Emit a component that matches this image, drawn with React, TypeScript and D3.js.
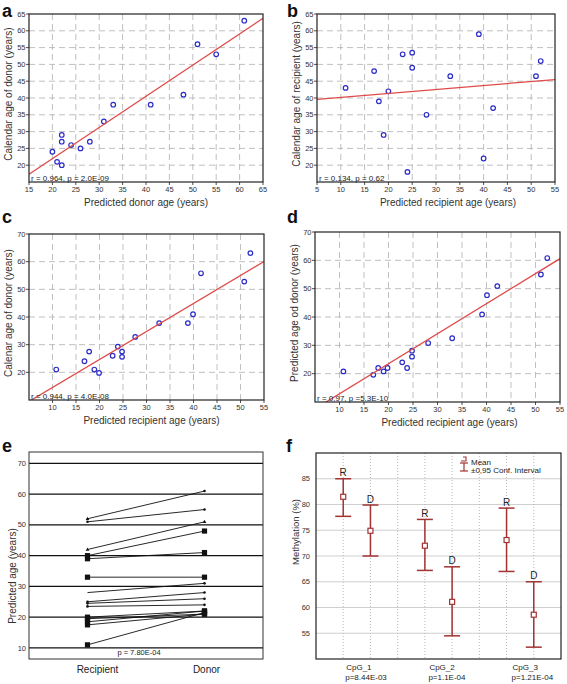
import React from 'react';
import * as d3 from 'd3';

const FONT = '"Liberation Sans", Arial, sans-serif';

// ---- Panel a ----
const aPredDonor = [20, 21, 22, 22, 22, 24, 26, 28, 31, 33, 41, 48, 51, 55, 61];
const aCalDonor = [24, 21, 20, 27, 29, 26, 25, 27, 33, 38, 38, 41, 56, 53, 63];
const aFit = [3.4, 0.928];
const aStat = 'r = 0.964, p = 2.0E-09';
const aXTicks = [15, 20, 25, 30, 35, 40, 45, 50, 55, 60, 65];
const aYTicks = [20, 25, 30, 35, 40, 45, 50, 55, 60, 65];

// ---- Panel b ----
const bPredRec = [11, 17, 18, 19, 20, 23, 24, 25, 25, 28, 33, 39, 40, 42, 51, 52];
const bCalRec = [43, 48, 39, 29, 42, 53, 18, 53.5, 49, 35, 46.5, 59, 22, 37, 46.5, 51];
const bFit = [39.0, 0.118];
const bStat = 'r = 0.134, p = 0.62';
const bXTicks = [5, 10, 15, 20, 25, 30, 35, 40, 45, 50, 55];
const bYTicks = [20, 25, 30, 35, 40, 45, 50, 55, 60, 65];

// ---- Panel c ----
const cPredRec = [10.8, 16.8, 17.8, 18.9, 19.9, 22.8, 23.9, 24.8, 24.8, 27.6, 32.7, 38.8, 39.9, 41.6, 50.8, 52.1];
const cCalDonor = [21, 24, 27.5, 21, 19.8, 26, 29.3, 27.5, 25.6, 32.8, 37.8, 37.8, 41, 55.8, 52.8, 63.1];
const cFit = [4.4, 1.012];
const cStat = 'r = 0.944, p = 4.0E-08';
const cXTicks = [10, 15, 20, 25, 30, 35, 40, 45, 50, 55];
const cYTicks = [20, 30, 40, 50, 60, 70];

// ---- Panel d ----
const dPredRec = [10.8, 16.9, 17.9, 19, 19.8, 22.8, 23.8, 24.8, 24.8, 28.1, 33, 39.1, 40.1, 42.2, 51.1, 52.4];
const dPredDonor = [20.8, 19.6, 22, 20.8, 22, 24, 22, 28.1, 26, 30.8, 32.5, 40.9, 47.7, 50.9, 55, 60.8];
const dFit = [2.3, 1.06];
const dStat = 'r = 0.97, p =5.3E-10';
const dXTicks = [10, 15, 20, 25, 30, 35, 40, 45, 50, 55];
const dYTicks = [20, 30, 40, 50, 60, 70];

// ---- Panel e ----
const eGroups = ['Recipient', 'Donor'];
const eRecipient = [52, 51, 42, 40, 39, 33, 28, 25, 24.5, 23.5, 20, 19.5, 18.5, 17.5, 11];
const eDonor = [61, 55, 51, 48, 41, 33, 31, 28, 26, 24, 22, 21, 22, 21, 21.5];
const eRecMarker = ['tri', 'dot', 'tri', 'square', 'square', 'square', 'none', 'dot', 'dot', 'dot', 'square', 'square', 'square', 'square', 'square'];
const eDonMarker = ['dot', 'dot', 'tri', 'square', 'square', 'square', 'dot', 'dot', 'dot', 'dot', 'square', 'square', 'square', 'square', 'square'];
const eYTicks = [10, 20, 30, 40, 50, 60, 70];
const eStat = 'p = 7.80E-04';

// ---- Panel f ----
const fGroups = ['CpG_1', 'CpG_2', 'CpG_3'];
const fPvals = ['p=8.44E-03', 'p=1.1E-04', 'p=1.21E-04'];
const fRMean = [81.5, 72, 73.1];
const fRLow = [77.7, 67.2, 67.0];
const fRHigh = [85, 77.1, 79.3];
const fDMean = [74.9, 61.1, 58.6];
const fDLow = [70, 54.5, 52.3];
const fDHigh = [79.9, 67.9, 65];
const fYTicks = [55, 60, 65, 70, 75, 80, 85];

function Scatter(props: any) {
  const { id, left, right, top, bottom, xDomain, yDomain, xTicks, yTicks, xs, ys, fit, stat, xTitle, yTitle, xTitleDx = 0 } = props;
  const x = d3.scaleLinear().domain(xDomain).range([left, right]);
  const y = d3.scaleLinear().domain(yDomain).range([bottom, top]);
  const [b, m] = fit;
  const line = d3.line<number>().x((v) => x(v)).y((v) => y(b + m * v));
  const grid = '#b8b8b8';
  return (
    <g fontFamily={FONT}>
      <defs>
        <clipPath id={id}>
          <rect x={left} y={top} width={right - left} height={bottom - top} />
        </clipPath>
      </defs>
      {xTicks.filter((t: number) => x(t) > left + 1 && x(t) < right - 1).map((t: number) => (
        <line key={'gx' + t} x1={x(t)} x2={x(t)} y1={top} y2={bottom} stroke={grid} strokeDasharray="6,4" strokeWidth={0.9} />
      ))}
      {yTicks.filter((t: number) => y(t) > top + 1 && y(t) < bottom - 1).map((t: number) => (
        <line key={'gy' + t} x1={left} x2={right} y1={y(t)} y2={y(t)} stroke={grid} strokeDasharray="6,4" strokeWidth={0.9} />
      ))}
      {xs.map((v: number, i: number) => (
        <circle key={'p' + i} cx={x(v)} cy={y(ys[i])} r={2.3} fill="white" stroke="#2b2bc8" strokeWidth={1.2} />
      ))}
      <path d={line(xDomain) || ''} clipPath={`url(#${id})`} stroke="#e04a4a" strokeWidth={1.3} fill="none" />
      <rect x={left} y={top} width={right - left} height={bottom - top} fill="none" stroke="#222" strokeWidth={1.2} />
      {xTicks.map((t: number) => (
        <g key={'tx' + t}>
          <line x1={x(t)} x2={x(t)} y1={bottom} y2={bottom + 3} stroke="#222" strokeWidth={0.8} />
          <text x={x(t)} y={bottom + 10} fontSize={7.5} textAnchor="middle" fill="#333">{t}</text>
        </g>
      ))}
      {yTicks.map((t: number) => (
        <g key={'ty' + t}>
          <line x1={left - 3} x2={left} y1={y(t)} y2={y(t)} stroke="#222" strokeWidth={0.8} />
          <text x={left - 3.5} y={y(t) + 2.6} fontSize={7.5} textAnchor="end" fill="#333">{t}</text>
        </g>
      ))}
      <text x={left + 2} y={bottom - 1.5} fontSize={8} fill="#222">{stat}</text>
      <text x={(left + right) / 2 + xTitleDx} y={bottom + 23.5} fontSize={10} textAnchor="middle" fill="#333">{xTitle}</text>
      <text transform={`translate(${left - 17},${(top + bottom) / 2 - 4}) rotate(-90)`} fontSize={10} textAnchor="middle" fill="#333">{yTitle}</text>
    </g>
  );
}

function PanelE() {
  const left = 29, right = 263, top = 452, bottom = 659;
  const x = d3.scalePoint<string>().domain(eGroups).range([left, right]).padding(0.5);
  const y = d3.scaleLinear().domain([6.4, 73.7]).range([bottom, top]);
  const xr = x('Recipient') as number;
  const xd = x('Donor') as number;
  const marker = (type: string, cx: number, cy: number, k: string) => {
    if (type === 'square') return <rect key={k} x={cx - 2.6} y={cy - 2.6} width={5.2} height={5.2} fill="#111" />;
    if (type === 'dot') return <circle key={k} cx={cx} cy={cy} r={1.3} fill="#111" />;
    if (type === 'tri') return <path key={k} d={`M${cx},${cy - 2}L${cx + 1.8},${cy + 1.3}L${cx - 1.8},${cy + 1.3}Z`} fill="#111" />;
    return null;
  };
  return (
    <g fontFamily={FONT}>
      {eYTicks.map((t) => (
        <g key={'e' + t}>
          <line x1={left} x2={right} y1={y(t)} y2={y(t)} stroke="#111" strokeWidth={1.3} />
          <text x={left - 3} y={y(t) + 2.6} fontSize={7.5} textAnchor="end" fill="#333">{t}</text>
        </g>
      ))}
      {eRecipient.map((v, i) => (
        <line key={'l' + i} x1={xr} y1={y(v)} x2={xd} y2={y(eDonor[i])} stroke="#111" strokeWidth={0.9} />
      ))}
      {eRecipient.map((v, i) => marker(eRecMarker[i], xr, y(v), 'r' + i))}
      {eDonor.map((v, i) => marker(eDonMarker[i], xd, y(v), 'd' + i))}
      <rect x={left} y={top} width={right - left} height={bottom - top} fill="none" stroke="#333" strokeWidth={1} />
      <text x={139} y={655} fontSize={7.5} textAnchor="middle" fill="#222">{eStat}</text>
      {eGroups.map((g) => (
        <text key={g} x={(x(g) as number) + (g === 'Recipient' ? 10 : 2)} y={673} fontSize={10} textAnchor="middle" fill="#222">{g}</text>
      ))}
      <text transform={`translate(16,576) rotate(-90)`} fontSize={10} textAnchor="middle" fill="#333">Predicted age (years)</text>
    </g>
  );
}

function PanelF() {
  const left = 316, right = 561, top = 453, bottom = 659;
  const x = d3.scaleLinear().domain([0, 9]).range([left, right]);
  const y = d3.scaleLinear().domain([50, 90]).range([bottom, top]);
  const col = '#a23333';
  const bar = (cx: number, lo: number, hi: number, mean: number, lab: string, k: string) => (
    <g key={k}>
      <line x1={cx} x2={cx} y1={y(lo)} y2={y(hi)} stroke={col} strokeWidth={1.5} />
      <line x1={cx - 8} x2={cx + 8} y1={y(lo)} y2={y(lo)} stroke={col} strokeWidth={1.5} />
      <line x1={cx - 8} x2={cx + 8} y1={y(hi)} y2={y(hi)} stroke={col} strokeWidth={1.5} />
      <rect x={cx - 2.5} y={y(mean) - 2.5} width={5} height={5} fill="white" stroke={col} strokeWidth={1.2} />
      <text x={cx} y={y(hi) - 2.5} fontSize={10} textAnchor="middle" fill="#222">{lab}</text>
    </g>
  );
  return (
    <g fontFamily={FONT}>
      {fYTicks.map((t) => (
        <g key={'fy' + t}>
          <line x1={left} x2={right} y1={y(t)} y2={y(t)} stroke="#cfcfcf" strokeWidth={1} />
          <text x={left - 6} y={y(t) + 2.6} fontSize={7.5} textAnchor="end" fill="#333">{t}</text>
        </g>
      ))}
      {d3.range(1, 9).map((k) => (
        <line key={'fx' + k} x1={x(k)} x2={x(k)} y1={top} y2={bottom} stroke="#b0b0b0" strokeDasharray="1,2" strokeWidth={0.9} />
      ))}
      {fGroups.map((g, i) => bar(x(1 + 3 * i), fRLow[i], fRHigh[i], fRMean[i], 'R', 'r' + i))}
      {fGroups.map((g, i) => bar(x(2 + 3 * i), fDLow[i], fDHigh[i], fDMean[i], 'D', 'd' + i))}
      <rect x={left} y={top} width={right - left} height={bottom - top} fill="none" stroke="#222" strokeWidth={1.2} />
      {fGroups.map((g, i) => (
        <g key={'fl' + i}>
          <text x={x(1 + 3 * i) + 3 + i * 1.5} y={670} fontSize={8} fill="#222">{g}</text>
          <text x={x(1 + 3 * i) + 2 + i * 1.5} y={680} fontSize={8} fill="#222">{fPvals[i]}</text>
        </g>
      ))}
      <g>
        <path d="M463,457 L466,457 L466,461 L461,461" fill="none" stroke={col} strokeWidth={1.1} />
        <line x1={464} x2={464} y1={463} y2={471} stroke={col} strokeWidth={1.2} />
        <line x1={460} x2={468} y1={463} y2={463} stroke={col} strokeWidth={1.2} />
        <line x1={460} x2={468} y1={471} y2={471} stroke={col} strokeWidth={1.2} />
        <text x={471} y={464.5} fontSize={8} fill="#222">Mean</text>
        <text x={471} y={472.5} fontSize={8} fill="#222">±0,95 Conf. Interval</text>
      </g>
      <text transform={`translate(299,532) rotate(-90)`} fontSize={9.5} textAnchor="middle" fill="#333">Methylation (%)</text>
    </g>
  );
}

export default function App() {
  const letter = (t: string, x: number, y: number) => (
    <text x={x} y={y} fontSize={18} fontWeight="bold" fontFamily={FONT} fill="#111">{t}</text>
  );
  return (
    <svg width={567} height={684} style={{ position: 'absolute', left: 0, top: 0, background: 'white' }}>
      <rect width={567} height={684} fill="white" />
      <Scatter id="ca" left={29} right={263} top={14} bottom={182} xDomain={[15, 65]} yDomain={[15, 65]}
        xTicks={aXTicks} yTicks={aYTicks} xs={aPredDonor} ys={aCalDonor} fit={aFit} stat={aStat}
        xTitle="Predicted donor age (years)" yTitle="Calendar age of donor (years)" />
      <Scatter id="cb" left={317} right={555} top={14} bottom={182} xDomain={[5, 55]} yDomain={[15, 65]}
        xTicks={bXTicks} yTicks={bYTicks} xs={bPredRec} ys={bCalRec} fit={bFit} stat={bStat}
        xTitle="Predicted recipient age (years)" yTitle="Calendar age of recipient (years)" xTitleDx={12} />
      <Scatter id="cc" left={29} right={264} top={234} bottom={400} xDomain={[5, 55]} yDomain={[10, 70]}
        xTicks={cXTicks} yTicks={cYTicks} xs={cPredRec} ys={cCalDonor} fit={cFit} stat={cStat}
        xTitle="Predicted recipient age (years)" yTitle="Calenar age of donor (years)" xTitleDx={5} />
      <Scatter id="cd" left={315} right={560} top={232} bottom={402} xDomain={[5, 55]} yDomain={[10, 70]}
        xTicks={dXTicks} yTicks={dYTicks} xs={dPredRec} ys={dPredDonor} fit={dFit} stat={dStat}
        xTitle="Predicted recipient age (years)" yTitle="Predicted age od donor (years)" xTitleDx={12} />
      <PanelE />
      <PanelF />
      {letter('a', 2, 16.5)}
      {letter('b', 287, 16.5)}
      {letter('c', 2, 223)}
      {letter('d', 287, 223)}
      {letter('e', 2, 452)}
      {letter('f', 286, 452)}
    </svg>
  );
}
